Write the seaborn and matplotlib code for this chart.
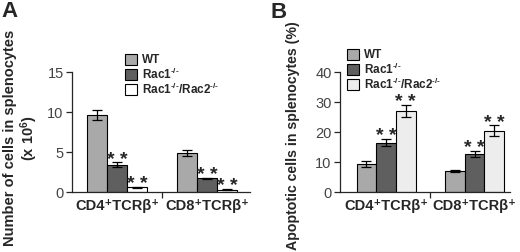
import pandas as pd
import numpy as np
import matplotlib
matplotlib.use("Agg")
import matplotlib.pyplot as plt
from matplotlib.patches import Patch
import seaborn as sns

# --- data ---
CELLS = ["CD4\u207aTCRβ\u207a", "CD8\u207aTCRβ\u207a"]
GENOS = ["WT", "Rac1$^{\u2010/\u2010}$", "Rac1$^{\u2010/\u2010}$/Rac2$^{\u2010/\u2010}$"]

num_wt = [9.6, 4.9]
num_rac1 = [3.4, 1.7]
num_dko = [0.6, 0.3]
num_wt_err = [0.6, 0.35]
num_rac1_err = [0.3, 0.08]
num_dko_err = [0.05, 0.05]
num_sig = [False, True, True]

apo_wt = [9.5, 7.0]
apo_rac1 = [16.5, 12.7]
apo_dko = [27.0, 20.5]
apo_wt_err = [1.0, 0.3]
apo_rac1_err = [1.3, 1.1]
apo_dko_err = [2.0, 1.7]
apo_sig = [False, True, True]

A_COLORS = ["#a9a9a9", "#5f5f5f", "#ffffff"]
B_COLORS = ["#a9a9a9", "#5f5f5f", "#ededed"]

sns.set_theme(style="ticks")
plt.rcParams["font.family"] = ["Liberation Sans", "DejaVu Sans"]
plt.rcParams["mathtext.fontset"] = "custom"
plt.rcParams["mathtext.rm"] = "Liberation Sans:bold"
plt.rcParams["mathtext.default"] = "rm"


def build(vals, errs):
    rows = []
    for g, v, e in zip(GENOS, vals, errs):
        for c, vv, ee in zip(CELLS, v, e):
            rows.append({"cell": c, "geno": g, "value": vv, "err": ee})
    return pd.DataFrame(rows)


def draw(ax, df, colors, sig, ylim, yticks, ylabel, label_size, xlim,
         legend_anchor, fig):
    sns.barplot(data=df, x="cell", y="value", hue="geno", order=CELLS,
                hue_order=GENOS, palette=colors, width=0.667, gap=0,
                edgecolor="black", linewidth=0.8, errorbar=None,
                legend=False, ax=ax)
    # error bars + significance stars on top of each seaborn bar
    for p in ax.patches:
        h = p.get_height()
        cx = p.get_x() + p.get_width() / 2
        m = df[np.isclose(df["value"], h)].iloc[0]
        ax.errorbar(cx, h, yerr=m["err"], color="black", capsize=3.5,
                    elinewidth=0.9, capthick=0.9)
        if sig[GENOS.index(m["geno"])]:
            ax.annotate("* *", (cx, h + m["err"]), xytext=(0, -4.5),
                        textcoords="offset points", ha="center", va="bottom",
                        fontsize=14, fontweight="bold")
    ax.set_ylim(*ylim)
    ax.set_yticks(yticks)
    ax.set_xlim(*xlim)
    ax.set_xlabel("")
    ax.set_ylabel(ylabel, fontsize=label_size, fontweight="bold", labelpad=3,
                  linespacing=1.1)
    ax.tick_params(axis="y", labelsize=10.5, labelcolor="#444444",
                   length=4, width=0.9, pad=2)
    ax.tick_params(axis="x", length=0, pad=5)
    for lab in ax.get_xticklabels():
        lab.set_fontweight("bold")
        lab.set_fontsize(10.5)
    ax.set_xticks([0.5], minor=True)
    ax.tick_params(axis="x", which="minor", length=4, width=0.9)
    sns.despine(ax=ax)
    for s in ["left", "bottom"]:
        ax.spines[s].set_linewidth(0.9)
    handles = [Patch(facecolor=c, edgecolor="black", linewidth=0.8) for c in colors]
    ax.legend(handles, GENOS, loc="upper left", bbox_to_anchor=legend_anchor,
              bbox_transform=fig.transFigure, frameon=False,
              prop={"weight": "bold", "size": 8.5}, handlelength=1.0,
              handleheight=1.0, handletextpad=0.4, labelspacing=0.0,
              borderpad=0, borderaxespad=0)


fig = plt.figure(figsize=(5.2, 2.52), dpi=100)
ax_a = fig.add_axes([72 / 520, 1 - 192 / 252, 178 / 520, 120 / 252])
ax_b = fig.add_axes([340 / 520, 1 - 192 / 252, 170 / 520, 120 / 252])

draw(ax_a, build([num_wt, num_rac1, num_dko], [num_wt_err, num_rac1_err, num_dko_err]),
     A_COLORS, num_sig, (0, 15), [0, 5, 10, 15],
     "Number of cells in splenocytes\n(x 10$^6$)", 10.5, (-0.5, 1.48),
     (125 / 520, 1 - 54 / 252), fig)
draw(ax_b, build([apo_wt, apo_rac1, apo_dko], [apo_wt_err, apo_rac1_err, apo_dko_err]),
     B_COLORS, apo_sig, (0, 40), [0, 10, 20, 30, 40],
     "Apoptotic cells in splenocytes (%)", 10.2, (-0.52, 1.4),
     (347 / 520, 1 - 49 / 252), fig)

ax_a.yaxis.set_label_coords(-0.18, 0.45)
ax_b.yaxis.set_label_coords(-0.235, 0.47)

fig.text(1 / 520, 1 - 1 / 252, "A", fontsize=16, fontweight="bold", va="top")
fig.text(271 / 520, 1 - 2 / 252, "B", fontsize=16, fontweight="bold", va="top")

fig.savefig("out.png", dpi=100)
